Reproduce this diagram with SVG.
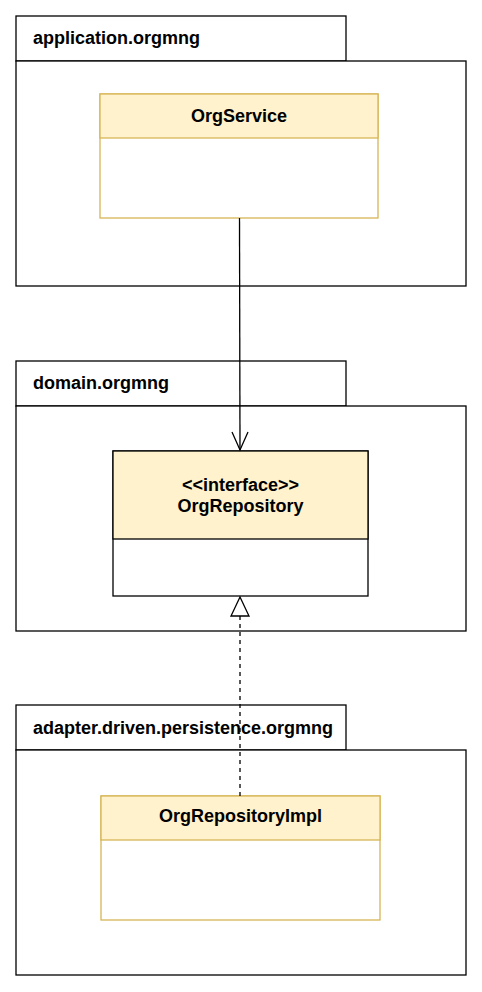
<svg xmlns="http://www.w3.org/2000/svg" width="482" height="992" viewBox="0 0 482 992">
<style>
.pkg{fill:#fff;stroke:#000;stroke-width:1.3}
.cls{fill:#fff;stroke:#d6b656;stroke-width:1.3}
.hdr{fill:#fff2cc;stroke:#d6b656;stroke-width:1.3}
.ifc{fill:#fff;stroke:#000;stroke-width:1.3}
.ifh{fill:#fff2cc;stroke:#000;stroke-width:1.3}
text{font-family:"Liberation Sans",Arial,sans-serif;font-weight:bold;font-size:18px;fill:#000}
.c{text-anchor:middle}
.conn{fill:none;stroke:#000;stroke-width:1.3}
</style>
<rect width="482" height="992" fill="#fff"/>
<g id="pkg-application">
<rect class="pkg" x="16" y="16" width="330" height="45"/>
<rect class="pkg" x="16" y="61" width="450" height="225"/>
<text x="33" y="44">application.orgmng</text>
</g>
<g id="pkg-domain">
<rect class="pkg" x="16" y="361" width="330" height="45"/>
<rect class="pkg" x="16" y="406" width="450" height="225"/>
<text x="33" y="389">domain.orgmng</text>
</g>
<g id="pkg-adapter">
<rect class="pkg" x="16" y="705" width="330" height="45"/>
<rect class="pkg" x="16" y="750" width="450" height="225"/>
<text x="33" y="734">adapter.driven.persistence.orgmng</text>
</g>
<g id="OrgService">
<rect class="cls" x="100" y="94" width="278" height="124"/>
<rect class="hdr" x="100" y="94" width="278" height="44"/>
<text class="c" x="239" y="122">OrgService</text>
</g>
<g id="OrgRepository">
<rect class="ifc" x="113" y="451" width="255" height="145"/>
<rect class="ifh" x="113" y="451" width="255" height="88"/>
<text class="c" x="240.5" y="491">&lt;&lt;interface&gt;&gt;</text>
<text class="c" x="240.5" y="512">OrgRepository</text>
</g>
<g id="OrgRepositoryImpl">
<rect class="cls" x="101" y="796" width="279" height="124"/>
<rect class="hdr" x="101" y="796" width="279" height="44"/>
<text class="c" x="240.5" y="822">OrgRepositoryImpl</text>
</g>
<g id="connectors">
<path class="conn" d="M239.5 218 L240 450"/>
<path class="conn" d="M232 432 L240 450 L248 432"/>
<path class="conn" d="M240 796 L240 616" stroke-dasharray="4 4"/>
<path class="conn" d="M240 597 L249 616 L231 616 Z" fill="#fff"/>
</g>
</svg>
